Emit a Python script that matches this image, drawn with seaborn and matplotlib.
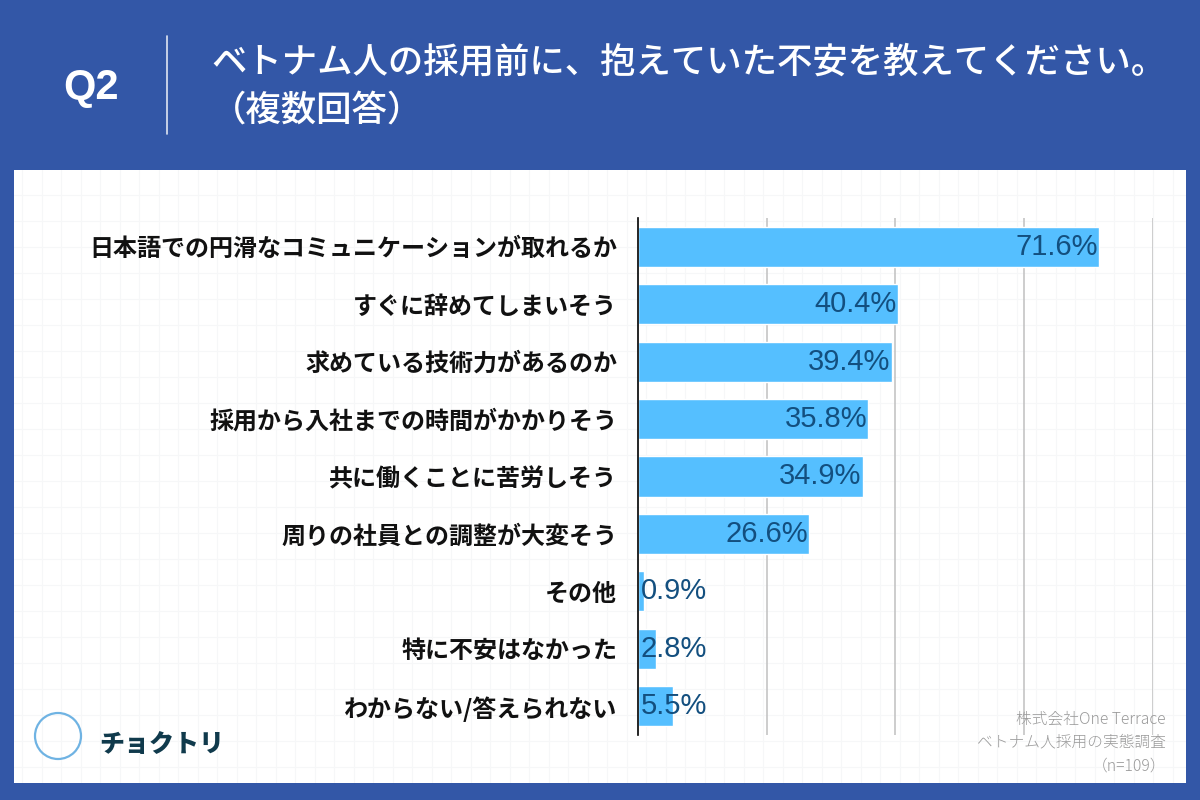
import numpy as np
import pandas as pd
import matplotlib.pyplot as plt
import seaborn as sns
from matplotlib.patches import Rectangle, Ellipse

# -----------------------------
# Data
# -----------------------------
categories = [
    "日本語での円滑なコミュニケーションが取れるか",
    "すぐに辞めてしまいそう",
    "求めている技術力があるのか",
    "採用から入社までの時間がかかりそう",
    "共に働くことに苦労しそう",
    "周りの社員との調整が大変そう",
    "その他",
    "特に不安はなかった",
    "わからない/答えられない",
]
values = [71.6, 40.4, 39.4, 35.8, 34.9, 26.6, 0.9, 2.8, 5.5]
grid_ticks = [20, 40, 60, 80]

df = pd.DataFrame({"category": categories, "value": values})

# -----------------------------
# Style
# -----------------------------
sns.set_style("white")
plt.rcParams["font.family"] = ["Noto Sans CJK JP", "DejaVu Sans"]

BG_BLUE = "#3357a7"
BAR_BLUE = "#55bfff"
LABEL_NAVY = "#134f7f"
W, H = 1200, 800

fig = plt.figure(figsize=(12, 8), dpi=100, facecolor=BG_BLUE)

# white panel (behind the axes)
px0, px1, py0, py1 = 14, 1186, 170, 783
fig.patches.append(Rectangle((px0 / W, 1 - py1 / H), (px1 - px0) / W, (py1 - py0) / H,
                             transform=fig.transFigure, facecolor="white",
                             edgecolor="none", zorder=-5))

# faint graph-paper grid on the panel
bg = fig.add_axes([px0 / W, 1 - py1 / H, (px1 - px0) / W, (py1 - py0) / H], zorder=-1)
bg.patch.set_alpha(0)
bg.set_xlim(px0, px1)
bg.set_ylim(py1, py0)
for gx in np.arange(px0 + 8, px1, 19.5):
    bg.axvline(gx, color="#f6f7f8", lw=0.8)
for gy in np.arange(py0 + 25, py1, 26):
    bg.axhline(gy, color="#f6f7f8", lw=0.8)
bg.axis("off")

# -----------------------------
# Header
# -----------------------------
fig.text(91 / W, 1 - 88 / H, "Q2", color="white", fontsize=30, fontweight="bold",
         family=["Liberation Sans", "DejaVu Sans"], ha="center", va="center")
fig.add_artist(plt.Line2D([167 / W, 167 / W], [1 - 36 / H, 1 - 134 / H],
                          transform=fig.transFigure, color="#dfe5f2", lw=1.2))
fig.text(211 / W, 1 - 62 / H, "ベトナム人の採用前に、抱えていた不安を教えてください。",
         color="white", fontsize=25.5, fontweight="medium", ha="left", va="center")
fig.text(211 / W, 1 - 111 / H, "（複数回答）",
         color="white", fontsize=25.5, fontweight="medium", ha="left", va="center")

# -----------------------------
# Bar chart
# -----------------------------
ax_left, ax_right, ax_top, ax_bottom = 638, 1153, 218, 735
ax = fig.add_axes([ax_left / W, 1 - ax_bottom / H,
                   (ax_right - ax_left) / W, (ax_bottom - ax_top) / H])
ax.patch.set_alpha(0)

sns.barplot(data=df, x="value", y="category", orient="h", color=BAR_BLUE,
            saturation=1, width=0.7, ax=ax, zorder=3)

ax.set_xlim(0, 80)
ax.set_ylim(len(categories) - 0.5, -0.5)
ax.set_xticks(grid_ticks)
ax.set_xticklabels([])
ax.grid(axis="x", color="#c0c0c0", lw=1.1, zorder=0)
ax.set_axisbelow(True)
ax.set_xlabel("")
ax.set_ylabel("")
for side in ["top", "right", "bottom"]:
    ax.spines[side].set_visible(False)
ax.spines["left"].set_color("black")
ax.spines["left"].set_linewidth(1.2)
ax.spines["left"].set_zorder(4)
ax.tick_params(axis="y", length=0, pad=15, labelsize=17.3)
ax.tick_params(axis="x", length=0)
for lbl in ax.get_yticklabels():
    lbl.set_fontweight("bold")
    lbl.set_color("#111111")

for i, v in enumerate(values):
    if v > 15:
        ax.text(v - 0.2, i, f"{v}%", ha="right", va="center", fontsize=21,
                color=LABEL_NAVY, family=["Liberation Sans", "DejaVu Sans"], zorder=5)
    else:
        ax.text(0.4, i, f"{v}%", ha="left", va="center", fontsize=21,
                color=LABEL_NAVY, family=["Liberation Sans", "DejaVu Sans"], zorder=5)

# -----------------------------
# Footer: source + logo
# -----------------------------
for yy, txt in [(719, "株式会社One Terrace"), (742, "ベトナム人採用の実態調査"), (766, "（n=109）")]:
    fig.text(1166 / W, 1 - yy / H, txt, color="#9a9a9a", fontsize=11.3,
             ha="right", va="center", fontweight="light")

fig.patches.append(Ellipse((58 / W, 1 - 736 / H), 46 / W, 46 / H, transform=fig.transFigure,
                           facecolor="none", edgecolor="#6fb3e3", lw=1.6, zorder=2))
fig.text(99 / W, 1 - 744 / H, "チョクトリ", color="#103a4c", fontsize=18,
         fontweight="heavy", ha="left", va="center")

fig.savefig("out.png", dpi=100, facecolor=BG_BLUE)
